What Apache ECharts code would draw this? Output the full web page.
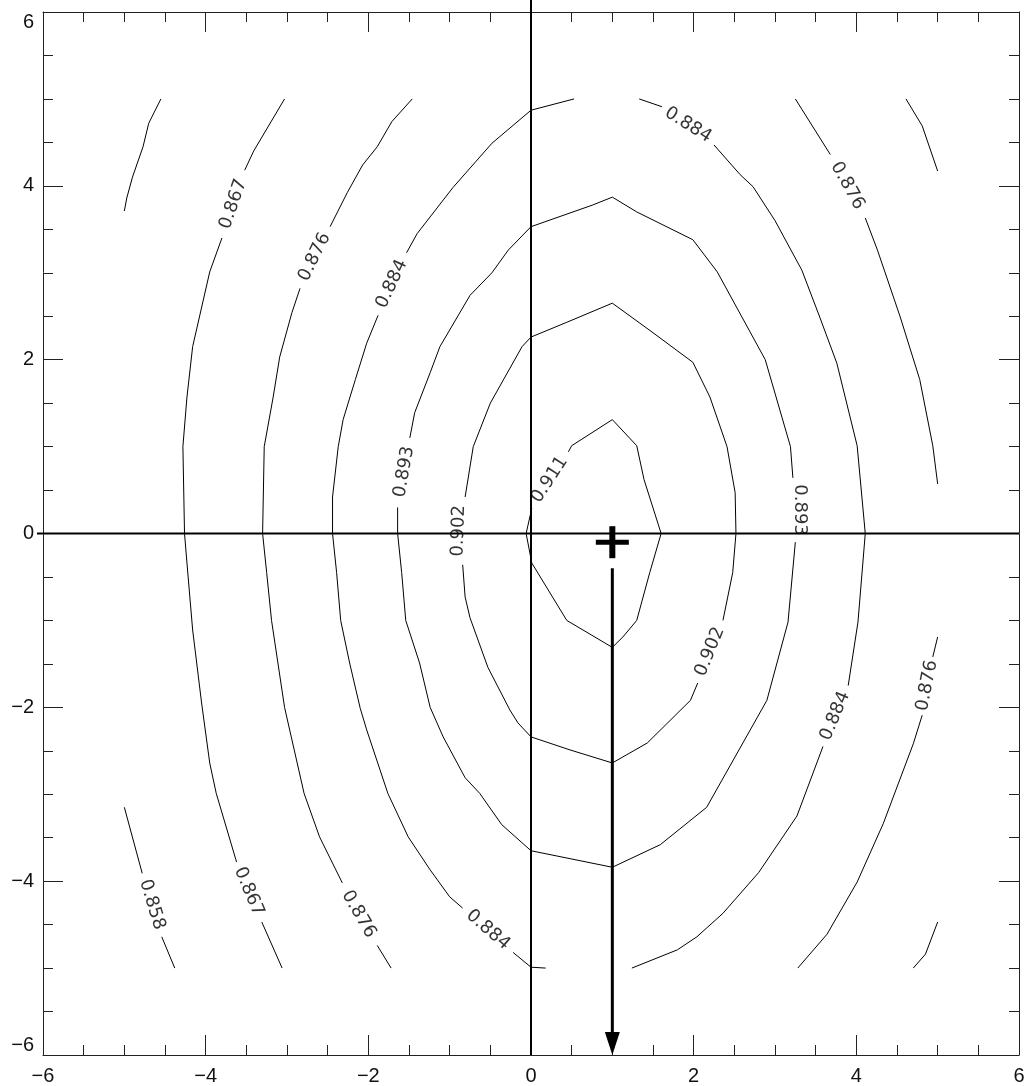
<!DOCTYPE html>
<html>
<head>
<meta charset="utf-8">
<script src="https://cdn.jsdelivr.net/npm/echarts@6/dist/echarts.min.js"></script>
<style>
  html, body { margin: 0; padding: 0; background: #fff; }
  #chart { width: 1029px; height: 1086px; }
</style>
</head>
<body>
<div id="chart"></div>
<script>
// Axis range and tick labels
const xTicks = [-6, -4, -2, 0, 2, 4, 6];
const yTicks = [-6, -4, -2, 0, 2, 4, 6];

// Contour polylines per level, each level split into pieces where the lines break
const c0858 = [
  [[-4.55, 5.0], [-4.70, 4.72], [-4.77, 4.45], [-4.90, 4.10], [-4.97, 3.86], [-5.0, 3.71]],
  [[-5.0, -3.15], [-4.78, -3.91]],
  [[-4.54, -4.64], [-4.38, -5.0]]
];
const c0867 = [
  [[-3.03, 5.0], [-3.41, 4.40], [-3.52, 4.18]],
  [[-3.80, 3.40], [-3.95, 3.01], [-4.16, 2.15], [-4.23, 1.57], [-4.28, 1.0], [-4.26, 0], [-4.23, -0.34],
   [-4.16, -1.11], [-4.05, -1.95], [-3.95, -2.64], [-3.87, -2.99], [-3.62, -3.78]],
  [[-3.31, -4.47], [-3.06, -5.0]],
  [[4.61, 5.0], [4.81, 4.69], [5.0, 4.17]],
  [[5.0, -4.47], [4.85, -4.84], [4.70, -5.0]]
];
const c0876 = [
  [[-1.46, 5.0], [-1.71, 4.74], [-1.89, 4.45], [-2.07, 4.24], [-2.26, 3.92], [-2.47, 3.53]],
  [[-2.84, 2.82], [-2.94, 2.54], [-3.09, 2.03], [-3.17, 1.57], [-3.28, 1.0], [-3.30, 0], [-3.25, -0.45],
   [-3.19, -1.0], [-3.03, -2.0], [-2.79, -2.99], [-2.60, -3.49], [-2.32, -4.02]],
  [[-1.89, -4.74], [-1.72, -5.0]],
  [[3.25, 5.0], [3.68, 4.36]],
  [[4.11, 3.63], [4.26, 3.26], [4.54, 2.49], [4.78, 1.77], [4.94, 1.01], [5.0, 0.57]],
  [[5.0, -1.19], [4.94, -1.42]],
  [[4.81, -2.09], [4.70, -2.42], [4.33, -3.34], [4.01, -4.01], [3.64, -4.61], [3.28, -5.0]]
];
const c0884 = [
  [[0.53, 5.0], [0, 4.87], [-0.48, 4.49], [-0.96, 3.98], [-1.40, 3.45], [-1.53, 3.23]],
  [[-1.88, 2.51], [-2.02, 2.19], [-2.16, 1.77], [-2.31, 1.31], [-2.37, 1.0], [-2.44, 0.42], [-2.44, 0],
   [-2.39, -0.45], [-2.34, -1.0], [-2.23, -1.49], [-2.10, -2.01], [-2.02, -2.26], [-1.76, -2.99],
   [-1.51, -3.49], [-1.24, -3.87], [-1.0, -4.18], [-0.84, -4.31]],
  [[-0.22, -4.82], [0, -4.99], [0.18, -5.0]],
  [[1.33, 5.0], [1.61, 4.91]],
  [[2.25, 4.47], [2.57, 4.13], [2.73, 3.99], [3.0, 3.60], [3.33, 3.03], [3.55, 2.49], [3.76, 1.96],
   [4.01, 1.01], [4.11, 0], [4.02, -1.02], [3.90, -1.75]],
  [[3.59, -2.45], [3.27, -3.25], [2.80, -3.90], [2.36, -4.37], [2.04, -4.64], [1.80, -4.79], [1.24, -5.0]]
];
const c0893 = [
  [[-1.64, 0.30], [-1.64, 0], [-1.59, -0.45], [-1.54, -1.0], [-1.37, -1.49], [-1.24, -2.0], [-1.08, -2.34],
   [-0.81, -2.81], [-0.63, -2.99], [-0.36, -3.35], [0, -3.65], [1.0, -3.84], [1.59, -3.58], [2.16, -3.15],
   [2.90, -1.92], [3.16, -1.02], [3.25, -0.1]],
  [[3.22, 0.64], [3.19, 1.0], [2.88, 2.0], [2.29, 3.01], [1.99, 3.38], [1.30, 3.70], [1.0, 3.87], [0.76, 3.78],
   [0, 3.53], [-0.28, 3.26], [-0.48, 3.0], [-0.75, 2.74], [-1.12, 2.15], [-1.24, 1.85], [-1.43, 1.39], [-1.49, 1.10]]
];
const c0902 = [
  [[-0.81, 0.42], [-0.71, 1.0], [-0.50, 1.50], [-0.11, 2.15], [0, 2.26], [0.44, 2.43], [1.0, 2.65], [1.50, 2.31],
   [1.99, 1.97], [2.20, 1.57], [2.41, 1.0], [2.51, 0.47], [2.52, 0], [2.48, -0.45], [2.36, -1.0]],
  [[2.05, -1.72], [1.96, -1.92], [1.43, -2.41], [1.0, -2.64], [0.48, -2.49], [0, -2.34], [-0.16, -2.18],
   [-0.26, -2.03], [-0.53, -1.54], [-0.75, -0.97], [-0.81, -0.73], [-0.84, -0.36]]
];
const c0911 = [
  [[0.46, 0.94], [0.50, 1.01], [1.0, 1.31], [1.30, 1.01], [1.39, 0.62], [1.60, 0], [1.46, -0.45], [1.30, -1.0],
   [1.13, -1.19], [1.0, -1.31], [0.44, -1.0], [0.01, -0.34], [-0.06, 0], [0.01, 0.29]]
];

// Contour labels: text, anchor in data units, text angle in degrees
const labelText = ['0.858', '0.867', '0.876', '0.884',
                   '0.867', '0.876', '0.884', '0.893', '0.902', '0.911',
                   '0.884', '0.876', '0.893', '0.902', '0.884', '0.876'];
const labelAt = [[-4.66, -4.27], [-3.47, -4.12], [-2.12, -4.38], [-0.53, -4.56],
                 [-3.66, 3.79], [-2.66, 3.18], [-1.71, 2.87], [-1.56, 0.71], [-0.89, 0.03], [0.23, 0.62],
                 [1.93, 4.70], [3.89, 4.0], [3.30, 0.27], [2.20, -1.36], [3.74, -2.10], [4.87, -1.75]];
const labelAngle = [-73, -67, -60, -41,
                    71, 64, 65, 80, 88, 57,
                    -32, -61, -90, 68, 67, 79];

// Marker and downward arrow
const crossAt = [1, -0.1];
const arrowFrom = [1, -0.4];
const arrowTo = [1, -6];

const chart = echarts.init(document.getElementById('chart'), null, { renderer: 'canvas' });

const FONT = 'Liberation Sans, Arial, sans-serif';
const LABEL_FONT = 'DejaVu Sans, Liberation Sans, sans-serif';
const minus = v => (v < 0 ? '\u2212' + Math.abs(v) : String(v));

const axisBase = {
  type: 'value', min: -6, max: 6, interval: 2,
  axisLine: { show: true, onZero: false, lineStyle: { color: '#222', width: 1 } },
  axisTick: { show: true, inside: true, length: 20, lineStyle: { color: '#222', width: 1 } },
  minorTick: { show: true, splitNumber: 4, length: 10, lineStyle: { color: '#222', width: 1 } },
  splitLine: { show: false },
  minorSplitLine: { show: false }
};

const contourSeries = [];
[c0858, c0867, c0876, c0884, c0893, c0902, c0911].forEach(level => {
  level.forEach(piece => {
    contourSeries.push({
      type: 'line', data: piece, showSymbol: false, symbol: 'none', silent: true,
      lineStyle: { color: '#000', width: 1 }, z: 2
    });
  });
});

const option = {
  animation: false,
  backgroundColor: '#fff',
  grid: { left: 43, right: 10, top: 12, bottom: 31, containLabel: false },
  xAxis: [
    Object.assign({}, axisBase, {
      position: 'bottom',
      axisLabel: {
        show: true, fontSize: 20, color: '#111', fontFamily: FONT, margin: 11,
        formatter: v => (xTicks.indexOf(v) >= 0 ? minus(v) : '')
      }
    }),
    Object.assign({}, axisBase, { position: 'top', axisLabel: { show: false } })
  ],
  yAxis: [
    Object.assign({}, axisBase, {
      position: 'left',
      axisLabel: {
        show: true, fontSize: 20, color: '#111', fontFamily: FONT, margin: 9,
        verticalAlignMaxLabel: 'top', verticalAlignMinLabel: 'bottom',
        formatter: v => (yTicks.indexOf(v) >= 0 ? minus(v) : '')
      }
    }),
    Object.assign({}, axisBase, { position: 'right', axisLabel: { show: false } })
  ],
  series: contourSeries.concat([
    {
      type: 'scatter', silent: true, symbol: 'circle', symbolSize: 0, z: 3,
      itemStyle: { color: 'transparent' },
      data: labelAt.map((p, i) => ({ value: p, label: { rotate: labelAngle[i] } })),
      label: {
        show: true, position: 'inside', color: '#000', fontSize: 18, fontFamily: LABEL_FONT,
        align: 'center', verticalAlign: 'middle',
        formatter: p => labelText[p.dataIndex]
      }
    },
    {
      type: 'custom', silent: true, clip: false, z: 5,
      data: [0],
      renderItem: (params, api) => {
        const top = api.coord([0, 6]);
        const bot = api.coord([0, -6]);
        const lft = api.coord([-6, 0]);
        const rgt = api.coord([6, 0]);
        const c = api.coord(crossAt);
        const a0 = api.coord(arrowFrom);
        const a1 = api.coord(arrowTo);
        const headH = 23, headW = 15;
        return {
          type: 'group',
          children: [
            { type: 'line', shape: { x1: top[0], y1: top[1] - 12, x2: bot[0], y2: bot[1] },
              style: { stroke: '#000', lineWidth: 2 } },
            { type: 'line', shape: { x1: lft[0] - 6, y1: lft[1], x2: rgt[0], y2: rgt[1] },
              style: { stroke: '#000', lineWidth: 2 } },
            { type: 'rect', shape: { x: c[0] - 16.5, y: c[1] - 2.5, width: 33, height: 5 },
              style: { fill: '#000' } },
            { type: 'rect', shape: { x: c[0] - 3, y: c[1] - 16, width: 6, height: 32 },
              style: { fill: '#000' } },
            { type: 'line', shape: { x1: a0[0], y1: a0[1], x2: a1[0], y2: a1[1] - headH + 2 },
              style: { stroke: '#000', lineWidth: 3 } },
            { type: 'polygon',
              shape: { points: [[a1[0] - headW / 2, a1[1] - headH], [a1[0] + headW / 2, a1[1] - headH], [a1[0], a1[1]]] },
              style: { fill: '#000' } }
          ]
        };
      }
    }
  ])
};

chart.setOption(option);
</script>
</body>
</html>
